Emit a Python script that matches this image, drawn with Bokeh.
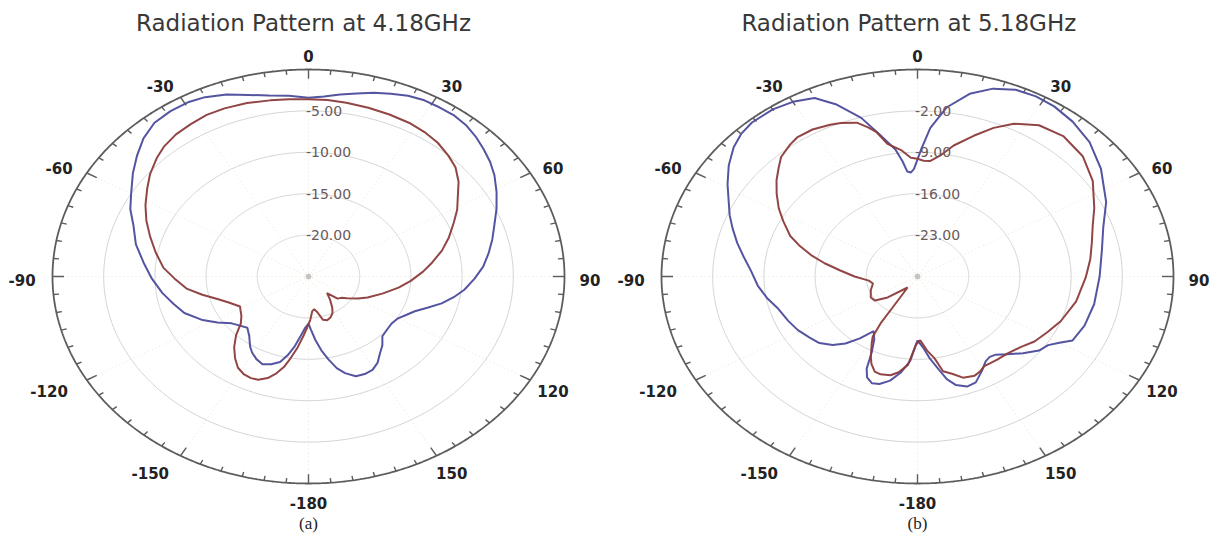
import numpy as np
from bokeh.plotting import figure
from bokeh.layouts import row
from bokeh.models import Range1d
from bokeh.core.properties import value
from bokeh.embed import file_html
from bokeh.resources import INLINE

# ---------------- data ----------------
titles = ["Radiation Pattern at 4.18GHz", "Radiation Pattern  at 5.18GHz"]
captions = ["(a)", "(b)"]
angle_ticks = [0, 30, 60, 90, 120, 150, 180, -150, -120, -90, -60, -30]
angle_labels = ["0", "30", "60", "90", "120", "150", "-180", "-150", "-120", "-90", "-60", "-30"]

# panel (a): radial scale -25 dB (centre) .. 0 dB (rim)
a_db_range = [-25.0, 0.0]
a_rings = [-5.0, -10.0, -15.0, -20.0]
a_ring_labels = ["-5.00", "-10.00", "-15.00", "-20.00"]

a_blue_ang = [-180, -177, -174, -171, -168, -165, -161, -157, -153, -149, -146, -141, -136, -131, -127,
              -122, -117, -110, -104, -98, -91, -84, -77, -70, -65, -60, -54, -49, -44, -39, -34, -29,
              -25, -20, -15, -10, -5, 0, 4, 8, 12, 16, 20, 24, 28, 32, 36, 40, 44, 48, 52, 56, 61, 66,
              71, 76, 81, 86, 91, 96, 100, 104, 108, 112, 116, 120, 125, 130, 135, 139, 143, 147, 151,
              155, 159, 163, 166, 169, 172, 175, 178, 180]
a_blue_db = [-19.3, -18.8, -17.8, -16.5, -15.3, -14.3, -13.8, -13.5, -13.8, -14.3, -14.8, -15.8, -16.4, -16.0,
             -15.6, -14.5, -13.4, -12.1, -11.4, -10.6, -9.7, -8.8, -7.7, -6.8, -5.8, -5.0, -3.8, -2.8, -1.8,
             -1.1, -0.9, -0.9, -1.1, -1.6, -2.3, -2.8, -3.1, -3.4, -3.2, -2.8, -2.4, -1.9, -1.5, -1.1, -0.9,
             -0.9, -0.9, -1.1, -1.5, -2.0, -2.5, -3.1, -4.0, -4.9, -5.8, -6.5, -7.2, -7.9, -8.8, -9.7,
             -10.6, -11.6, -12.8, -13.8, -14.4, -14.9, -15.1, -15.0, -14.8, -14.0, -13.4, -12.6, -12.1,
             -12.0, -12.1, -12.8, -13.6, -14.8, -16.0, -17.3, -18.6, -19.3]

a_red_ang = [-179, -176, -173, -170, -167.6, -165, -162, -158.5, -155.4, -152, -148, -144, -139.6, -135,
             -130.6, -126, -121.7, -118.4, -112, -107, -102, -97, -91, -85.8, -79, -72.7, -67, -61.6, -56,
             -51.4, -46, -42, -37, -32, -27, -22, -16, -10, -5, 0, 5, 10, 16, 22, 28, 33, 38, 43, 47.4, 52,
             56, 61, 65.4, 71, 76.5, 82, 87, 93, 98.7, 106, 113.8, 119, 124.9, 129, 133.2, 137.9, 143, 148.2,
             152, 156.6, 161, 165, 168.6, 172, 175, 178, 181]
a_red_db = [-18.9, -17.8, -16.4, -15.0, -13.8, -12.9, -12.1, -11.6, -11.5, -11.6, -12.0, -12.8, -13.8, -15.0,
            -16.3, -16.9, -17.2, -17.4, -16.6, -15.7, -14.4, -13.0, -11.9, -10.8, -9.8, -8.8, -7.8, -6.9,
            -6.0, -5.2, -4.4, -3.9, -3.5, -3.3, -3.1, -3.1, -3.2, -3.4, -3.5, -3.6, -3.6, -3.7, -3.8, -3.9,
            -4.0, -4.2, -4.5, -5.0, -5.5, -6.4, -7.4, -8.4, -9.4, -10.5, -11.6, -12.8, -13.8, -15.0, -16.1,
            -17.5, -18.7, -19.5, -20.4, -20.9, -21.1, -22.3, -21.5, -20.6, -20.0, -19.6, -19.4, -19.6,
            -20.6, -21.0, -20.8, -19.8, -18.9]

# panel (b): radial scale -30 dB (centre) .. 5 dB (rim)
b_db_range = [-30.0, 5.0]
b_rings = [-2.0, -9.0, -16.0, -23.0]
b_ring_labels = ["-2.00", "-9.00", "-16.00", "-23.00"]

b_blue_ang = [-180, -176, -172, -168, -164, -161, -158, -156, -154, -151, -147, -143, -139, -135, -130, -125,
              -119, -113, -106, -100, -94, -87.5, -82, -77, -72, -68, -63, -59, -54, -49, -45, -41, -35,
              -30, -25, -21, -16, -12, -8, -6, -4.5, -3, -1.5, 0, 1.5, 4, 8, 13, 18, 23, 28, 33, 39, 46,
              54, 64, 72, 80, 90, 101, 110, 117, 120, 123, 127, 132, 137, 141, 144, 147, 151, 156, 160,
              164, 167, 170, 173, 176, 180]
b_blue_db = [-19.2, -15.7, -13.6, -12.0, -11.1, -10.9, -11.6, -12.9, -15.7, -17.8, -19.0, -16.9, -15.0, -13.6,
             -12.5, -12.0, -11.3, -10.8, -10.2, -9.1, -8.1, -7.2, -6.0, -4.7, -3.4, -2.3, -1.0, 0.3, 1.9,
             3.3, 4.1, 4.5, 4.5, 4.1, 3.3, 1.2, -2.1, -5.6, -8.3, -10.4, -12.2, -12.4, -11.8, -10.2, -8.3,
             -4.8, -1.1, 1.7, 3.4, 4.3, 4.5, 4.3, 3.7, 2.7, 1.0, -1.3, -3.3, -4.4, -5.1, -5.4, -5.7, -6.2,
             -7.6, -8.7, -9.2, -10.6, -12.0, -13.0, -13.2, -12.9, -11.8, -10.4, -10.2, -10.9, -12.2, -14.3,
             -16.0, -17.8, -19.2]

b_red_ang = [2.4, 5, 8.7, 12.6, 17.9, 22.5, 27, 33, 40, 48, 56, 64.4, 70, 76.6, 83, 90.4, 101, 111, 118, 124.5,
             130, 136.5, 142, 146, 149, 152, 155, 160, 164, 167.7, 170.5, 174, 178, 181, 185, 189, 192.5, 197,
             200, 203, 205.2, 209, 211, 212.5, 213, 216, 229, 235, 241, 250, 259, 264, 270, 275.5, 280, 284,
             288, 291.5, 297, 301.3, 306, 310.1, 314, 317.3, 322, 325, 330, 335, 338, 342.3, 345, 347,
             349.6, 352.2, 354, 357.4, 360, 362.4]
b_red_db = [-10.4, -10.4, -9.3, -7.3, -5.0, -2.8, -1.0, 0.5, 1.0, 0.4, -1.1, -3.2, -4.5, -5.5, -6.2, -7.0,
            -7.9, -9.0, -9.9, -10.6, -11.5, -12.1, -12.2, -12.3, -12.3, -11.8, -11.5, -11.8, -12.9, -13.6,
            -16.0, -17.4, -19.2, -18.5, -15.0, -13.6, -12.9, -12.7, -12.9, -13.9, -15.0, -17.1, -18.1,
            -20.6, -23.7, -27.7, -24.6, -22.9, -22.7, -23.2, -23.8, -23.3, -21.4, -19.4, -17.1, -15.0,
            -13.0, -11.3, -9.4, -7.8, -6.2, -4.8, -3.6, -2.5, -1.7, -1.3, -1.3, -1.7, -2.0, -2.7, -3.9,
            -4.9, -7.2, -8.0, -8.5, -9.9, -10.1, -10.4]

# ---------------- drawing ----------------
BLUE = "#4b4b9c"
RED = "#8c3b3b"
RIM = "#5c5c5c"
H = 547
RX, RY = 256.0, 207.0   # pixel radii of the rim ellipse
CY = 276.0              # centre y in window pixels


def uv(ang, db, rng):
    lo, hi = rng
    r = (np.asarray(db, float) - lo) / (hi - lo)
    t = np.radians(np.asarray(ang, float))
    return r * np.sin(t), r * np.cos(t)


def panel(left_px, width, cx, title, caption, rng, rings, ring_labels, curves):
    p = figure(width=width, height=H,
               x_range=Range1d((left_px - cx) / RX, (left_px + width - cx) / RX),
               y_range=Range1d((CY - H) / RY, CY / RY),
               output_backend="svg", toolbar_location=None,
               x_axis_type=None, y_axis_type=None, min_border=0)
    p.outline_line_color = None
    p.background_fill_color = "white"
    p.border_fill_color = "white"
    p.grid.visible = False

    t = np.linspace(0, 2 * np.pi, 721)
    lo, hi = rng
    # faint spokes
    sp = np.radians(np.arange(0, 360, 30))
    p.segment(x0=0, y0=0, x1=np.sin(sp), y1=np.cos(sp), line_color="#ece4cc",
              line_width=1, line_dash="1 3")
    # rings
    for rv in rings:
        rr = (rv - lo) / (hi - lo)
        p.line(rr * np.sin(t), rr * np.cos(t), line_color="#d2d2d2", line_width=1)
    # rim
    p.line(np.sin(t), np.cos(t), line_color=RIM, line_width=1.8)
    # ticks
    tk = np.arange(0, 360, 5)
    major = (tk % 30 == 0)
    inner = np.where(major, 0.955, 0.978)
    tr = np.radians(tk)
    p.segment(x0=np.sin(tr), y0=np.cos(tr), x1=inner * np.sin(tr), y1=inner * np.cos(tr),
              line_color=RIM, line_width=1.4)
    # centre dot
    p.scatter([0], [0], size=5, color="#c4c4c4")

    # curves
    for ang, db, col in curves:
        x, y = uv(ang, db, rng)
        p.line(x, y, line_color=col, line_width=2.0, line_alpha=0.95)

    # ring labels
    rr = [(rv - lo) / (hi - lo) for rv in rings]
    p.text(x=[-0.01] * len(rr), y=rr, text=ring_labels, text_font=value("DejaVu Sans"),
           text_font_size="14px", text_color="#6a5a5a", text_align="left",
           text_baseline="alphabetic")

    # angle labels
    ar = np.radians(np.asarray(angle_ticks, float))
    rl = 1.08
    xo = []
    for a, lab in zip(angle_ticks, angle_labels):
        if a in (0, 180):
            xo.append(0)
        elif lab.startswith("-"):
            xo.append(-10 if abs(a) in (30, 60, 90) else -20)
        else:
            xo.append(5)
    p.text(x=rl * np.sin(ar), y=rl * np.cos(ar) - 3.0 / RY, text=angle_labels, x_offset=xo,
           text_font=value("DejaVu Sans"), text_font_style="bold", text_font_size="15px",
           text_color="#222222", text_align="center", text_baseline="middle")

    # title and caption
    p.text(x=[-5.0 / RX], y=[(CY - 22) / RY], text=[title], text_font=value("DejaVu Sans"),
           text_font_size="23px", text_color="#383838", text_align="center", text_baseline="middle")
    p.text(x=[0], y=[(CY - 523) / RY], text=[caption], text_font=value("Liberation Serif"),
           text_font_size="17px", text_color="#222222", text_align="center", text_baseline="middle")
    return p


pa = panel(0, 606, 308.0, titles[0], captions[0], a_db_range, a_rings, a_ring_labels,
           [(a_blue_ang, a_blue_db, BLUE), (a_red_ang, a_red_db, RED)])
pb = panel(606, 606, 917.0, titles[1], captions[1], b_db_range, b_rings, b_ring_labels,
           [(b_blue_ang, b_blue_db, BLUE), (b_red_ang, b_red_db, RED)])

layout = row(pa, pb, spacing=0)
open("out.html", "w").write(file_html(layout, INLINE))
